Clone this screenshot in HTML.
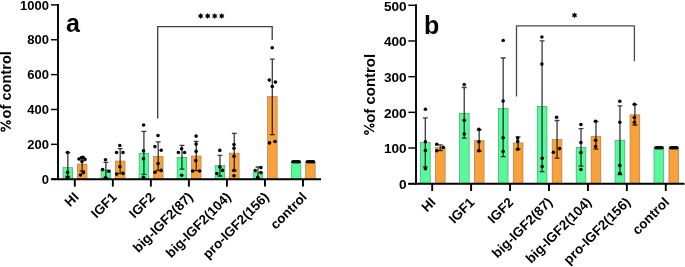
<!DOCTYPE html><html><head><meta charset="utf-8"><style>html,body{margin:0;padding:0;background:#fff;overflow:hidden}svg{display:block;will-change:transform}</style></head><body>
<svg width="685" height="267" viewBox="0 0 685 267" font-family='"Liberation Sans", sans-serif' font-weight="bold">
<rect x="63.0" y="167.7" width="9.7" height="11.5" fill="#58f99a" stroke="#3f8a5c" stroke-width="0.55"/>
<rect x="77.3" y="164.1" width="9.7" height="15.099999999999994" fill="#f9a23b" stroke="#8c7058" stroke-width="0.55"/>
<rect x="101.03" y="170.0" width="9.7" height="9.199999999999989" fill="#58f99a" stroke="#3f8a5c" stroke-width="0.55"/>
<rect x="115.33" y="161.0" width="9.7" height="18.19999999999999" fill="#f9a23b" stroke="#8c7058" stroke-width="0.55"/>
<rect x="139.06" y="153.4" width="9.7" height="25.799999999999983" fill="#58f99a" stroke="#3f8a5c" stroke-width="0.55"/>
<rect x="153.36" y="156.2" width="9.7" height="23.0" fill="#f9a23b" stroke="#8c7058" stroke-width="0.55"/>
<rect x="177.09" y="157.3" width="9.7" height="21.899999999999977" fill="#58f99a" stroke="#3f8a5c" stroke-width="0.55"/>
<rect x="191.39000000000001" y="156.0" width="9.7" height="23.19999999999999" fill="#f9a23b" stroke="#8c7058" stroke-width="0.55"/>
<rect x="215.12" y="165.6" width="9.7" height="13.599999999999994" fill="#58f99a" stroke="#3f8a5c" stroke-width="0.55"/>
<rect x="229.42000000000002" y="153.1" width="9.7" height="26.099999999999994" fill="#f9a23b" stroke="#8c7058" stroke-width="0.55"/>
<rect x="253.15" y="172.7" width="9.7" height="6.5" fill="#58f99a" stroke="#3f8a5c" stroke-width="0.55"/>
<rect x="267.45" y="96.7" width="9.7" height="82.49999999999999" fill="#f9a23b" stroke="#8c7058" stroke-width="0.55"/>
<rect x="291.18" y="161.8" width="9.7" height="17.399999999999977" fill="#58f99a" stroke="#3f8a5c" stroke-width="0.55"/>
<rect x="305.48" y="161.8" width="9.7" height="17.399999999999977" fill="#f9a23b" stroke="#8c7058" stroke-width="0.55"/>
<path d="M67.85,152.5V176.5M65.45,152.5H70.25M65.45,176.5H70.25" stroke="#000" stroke-opacity="0.78" stroke-width="1.3" fill="none"/>
<path d="M82.15,157.2V171.0M79.75,157.2H84.55M79.75,171.0H84.55" stroke="#000" stroke-opacity="0.78" stroke-width="1.3" fill="none"/>
<path d="M105.88,162.4V177.6M103.48,162.4H108.28M103.48,177.6H108.28" stroke="#000" stroke-opacity="0.78" stroke-width="1.3" fill="none"/>
<path d="M120.18,148.7V173.3M117.78,148.7H122.58M117.78,173.3H122.58" stroke="#000" stroke-opacity="0.78" stroke-width="1.3" fill="none"/>
<path d="M143.91,131.4V174.4M141.51,131.4H146.31M141.51,174.4H146.31" stroke="#000" stroke-opacity="0.78" stroke-width="1.3" fill="none"/>
<path d="M158.21,141.9V170.5M155.81,141.9H160.61M155.81,170.5H160.61" stroke="#000" stroke-opacity="0.78" stroke-width="1.3" fill="none"/>
<path d="M181.94,145.3V169.2M179.54,145.3H184.34M179.54,169.2H184.34" stroke="#000" stroke-opacity="0.78" stroke-width="1.3" fill="none"/>
<path d="M196.24,141.4V170.6M193.84,141.4H198.64M193.84,170.6H198.64" stroke="#000" stroke-opacity="0.78" stroke-width="1.3" fill="none"/>
<path d="M219.97,155.3V176.0M217.57,155.3H222.37M217.57,176.0H222.37" stroke="#000" stroke-opacity="0.78" stroke-width="1.3" fill="none"/>
<path d="M234.27,133.3V170.5M231.87,133.3H236.67M231.87,170.5H236.67" stroke="#000" stroke-opacity="0.78" stroke-width="1.3" fill="none"/>
<path d="M258.00,167.0V178.4M255.60,167.0H260.40M255.60,178.4H260.40" stroke="#000" stroke-opacity="0.78" stroke-width="1.3" fill="none"/>
<path d="M272.30,59.2V134.6M269.90,59.2H274.70M269.90,134.6H274.70" stroke="#000" stroke-opacity="0.78" stroke-width="1.3" fill="none"/>
<line x1="58" y1="4.0" x2="58" y2="180.0" stroke="#000" stroke-width="1.9"/>
<line x1="51" y1="179.2" x2="321" y2="179.2" stroke="#000" stroke-width="1.9"/>
<line x1="51" y1="179.2" x2="58" y2="179.2" stroke="#000" stroke-width="1.45"/>
<text x="49" y="183.80" font-size="13" text-anchor="end">0</text>
<line x1="51" y1="144.33999999999997" x2="58" y2="144.33999999999997" stroke="#000" stroke-width="1.45"/>
<text x="49" y="148.94" font-size="13" text-anchor="end">200</text>
<line x1="51" y1="109.47999999999999" x2="58" y2="109.47999999999999" stroke="#000" stroke-width="1.45"/>
<text x="49" y="114.08" font-size="13" text-anchor="end">400</text>
<line x1="51" y1="74.61999999999998" x2="58" y2="74.61999999999998" stroke="#000" stroke-width="1.45"/>
<text x="49" y="79.22" font-size="13" text-anchor="end">600</text>
<line x1="51" y1="39.75999999999999" x2="58" y2="39.75999999999999" stroke="#000" stroke-width="1.45"/>
<text x="49" y="44.36" font-size="13" text-anchor="end">800</text>
<line x1="51" y1="4.899999999999977" x2="58" y2="4.899999999999977" stroke="#000" stroke-width="1.45"/>
<text x="49" y="9.50" font-size="13" text-anchor="end">1000</text>
<line x1="74.8" y1="179.2" x2="74.8" y2="186.6" stroke="#000" stroke-width="1.9"/>
<line x1="112.83" y1="179.2" x2="112.83" y2="186.6" stroke="#000" stroke-width="1.9"/>
<line x1="150.86" y1="179.2" x2="150.86" y2="186.6" stroke="#000" stroke-width="1.9"/>
<line x1="188.89" y1="179.2" x2="188.89" y2="186.6" stroke="#000" stroke-width="1.9"/>
<line x1="226.92000000000002" y1="179.2" x2="226.92000000000002" y2="186.6" stroke="#000" stroke-width="1.9"/>
<line x1="264.95" y1="179.2" x2="264.95" y2="186.6" stroke="#000" stroke-width="1.9"/>
<line x1="302.98" y1="179.2" x2="302.98" y2="186.6" stroke="#000" stroke-width="1.9"/>
<circle cx="67.6" cy="152.5" r="1.8" fill="#000"/>
<circle cx="67.6" cy="172.4" r="1.8" fill="#000"/>
<circle cx="67.6" cy="177.3" r="1.8" fill="#000"/>
<circle cx="79" cy="159" r="1.8" fill="#000"/>
<circle cx="81.4" cy="157.8" r="1.8" fill="#000"/>
<circle cx="83" cy="157.2" r="1.8" fill="#000"/>
<circle cx="85" cy="159.4" r="1.8" fill="#000"/>
<circle cx="82" cy="161.4" r="1.8" fill="#000"/>
<circle cx="80.5" cy="175" r="1.8" fill="#000"/>
<circle cx="83.4" cy="172.4" r="1.8" fill="#000"/>
<circle cx="105.5" cy="159.7" r="1.8" fill="#000"/>
<circle cx="102.6" cy="169.6" r="1.8" fill="#000"/>
<circle cx="108.7" cy="171.3" r="1.8" fill="#000"/>
<circle cx="105.5" cy="177.9" r="1.8" fill="#000"/>
<circle cx="119.8" cy="145.5" r="1.8" fill="#000"/>
<circle cx="116.6" cy="152.5" r="1.8" fill="#000"/>
<circle cx="123" cy="152.5" r="1.8" fill="#000"/>
<circle cx="119.9" cy="166.8" r="1.8" fill="#000"/>
<circle cx="116.6" cy="174.1" r="1.8" fill="#000"/>
<circle cx="123" cy="173.4" r="1.8" fill="#000"/>
<circle cx="143.6" cy="125" r="1.8" fill="#000"/>
<circle cx="143.5" cy="150.9" r="1.8" fill="#000"/>
<circle cx="143.5" cy="158.7" r="1.8" fill="#000"/>
<circle cx="143.5" cy="177.3" r="1.8" fill="#000"/>
<circle cx="158" cy="135.5" r="1.8" fill="#000"/>
<circle cx="154.9" cy="146.6" r="1.8" fill="#000"/>
<circle cx="161.2" cy="150.2" r="1.8" fill="#000"/>
<circle cx="158.1" cy="163.6" r="1.8" fill="#000"/>
<circle cx="154.9" cy="172.3" r="1.8" fill="#000"/>
<circle cx="161.2" cy="170.4" r="1.8" fill="#000"/>
<circle cx="181.6" cy="148.8" r="1.8" fill="#000"/>
<circle cx="178.4" cy="152.5" r="1.8" fill="#000"/>
<circle cx="184.6" cy="152.5" r="1.8" fill="#000"/>
<circle cx="181.7" cy="175.3" r="1.8" fill="#000"/>
<circle cx="196.1" cy="136.1" r="1.8" fill="#000"/>
<circle cx="196.1" cy="144.1" r="1.8" fill="#000"/>
<circle cx="196.1" cy="151.4" r="1.8" fill="#000"/>
<circle cx="195.8" cy="160.6" r="1.8" fill="#000"/>
<circle cx="192.7" cy="171" r="1.8" fill="#000"/>
<circle cx="199.6" cy="171" r="1.8" fill="#000"/>
<circle cx="219.8" cy="150.4" r="1.8" fill="#000"/>
<circle cx="219.9" cy="167" r="1.8" fill="#000"/>
<circle cx="216.8" cy="173.5" r="1.8" fill="#000"/>
<circle cx="222.5" cy="170.4" r="1.8" fill="#000"/>
<circle cx="234" cy="144.5" r="1.8" fill="#000"/>
<circle cx="234" cy="148.3" r="1.8" fill="#000"/>
<circle cx="234" cy="156.2" r="1.8" fill="#000"/>
<circle cx="234" cy="170.5" r="1.8" fill="#000"/>
<circle cx="234" cy="175.7" r="1.8" fill="#000"/>
<circle cx="255.2" cy="170.5" r="1.8" fill="#000"/>
<circle cx="260.9" cy="167.6" r="1.8" fill="#000"/>
<circle cx="260.9" cy="172.6" r="1.8" fill="#000"/>
<circle cx="257.8" cy="177.4" r="1.8" fill="#000"/>
<circle cx="272.2" cy="47.8" r="1.8" fill="#000"/>
<circle cx="269.3" cy="80.1" r="1.8" fill="#000"/>
<circle cx="275.4" cy="82.1" r="1.8" fill="#000"/>
<circle cx="272.3" cy="86.5" r="1.8" fill="#000"/>
<circle cx="269.5" cy="142.9" r="1.8" fill="#000"/>
<circle cx="275" cy="141.5" r="1.8" fill="#000"/>
<circle cx="293.0" cy="161.8" r="1.8" fill="#000"/>
<circle cx="294.6" cy="161.8" r="1.8" fill="#000"/>
<circle cx="296.2" cy="161.8" r="1.8" fill="#000"/>
<circle cx="297.8" cy="161.8" r="1.8" fill="#000"/>
<circle cx="299.1" cy="161.8" r="1.8" fill="#000"/>
<circle cx="307.4" cy="161.8" r="1.8" fill="#000"/>
<circle cx="309.0" cy="161.8" r="1.8" fill="#000"/>
<circle cx="310.6" cy="161.8" r="1.8" fill="#000"/>
<circle cx="312.2" cy="161.8" r="1.8" fill="#000"/>
<circle cx="313.5" cy="161.8" r="1.8" fill="#000"/>
<rect x="420.4" y="142.6" width="9.8" height="41.099999999999994" fill="#58f99a" stroke="#3f8a5c" stroke-width="0.55"/>
<rect x="435.34999999999997" y="147.7" width="9.8" height="36.0" fill="#f9a23b" stroke="#8c7058" stroke-width="0.55"/>
<rect x="459.33" y="113.3" width="9.8" height="70.39999999999999" fill="#58f99a" stroke="#3f8a5c" stroke-width="0.55"/>
<rect x="474.28" y="140.7" width="9.8" height="43.0" fill="#f9a23b" stroke="#8c7058" stroke-width="0.55"/>
<rect x="498.26" y="108.6" width="9.8" height="75.1" fill="#58f99a" stroke="#3f8a5c" stroke-width="0.55"/>
<rect x="513.21" y="142.9" width="9.8" height="40.79999999999998" fill="#f9a23b" stroke="#8c7058" stroke-width="0.55"/>
<rect x="537.1899999999999" y="106.4" width="9.8" height="77.29999999999998" fill="#58f99a" stroke="#3f8a5c" stroke-width="0.55"/>
<rect x="552.14" y="139.6" width="9.8" height="44.099999999999994" fill="#f9a23b" stroke="#8c7058" stroke-width="0.55"/>
<rect x="576.12" y="147.4" width="9.8" height="36.29999999999998" fill="#58f99a" stroke="#3f8a5c" stroke-width="0.55"/>
<rect x="591.07" y="136.2" width="9.8" height="47.5" fill="#f9a23b" stroke="#8c7058" stroke-width="0.55"/>
<rect x="615.05" y="140.2" width="9.8" height="43.5" fill="#58f99a" stroke="#3f8a5c" stroke-width="0.55"/>
<rect x="630.0" y="114.8" width="9.8" height="68.89999999999999" fill="#f9a23b" stroke="#8c7058" stroke-width="0.55"/>
<rect x="653.98" y="147.8" width="9.8" height="35.89999999999998" fill="#58f99a" stroke="#3f8a5c" stroke-width="0.55"/>
<rect x="668.9300000000001" y="147.8" width="9.8" height="35.89999999999998" fill="#f9a23b" stroke="#8c7058" stroke-width="0.55"/>
<path d="M425.30,117.8V166.8M422.90,117.8H427.70M422.90,166.8H427.70" stroke="#000" stroke-opacity="0.78" stroke-width="1.3" fill="none"/>
<path d="M440.25,144.8V150.5M437.85,144.8H442.65M437.85,150.5H442.65" stroke="#000" stroke-opacity="0.78" stroke-width="1.3" fill="none"/>
<path d="M464.23,87.5V138.1M461.83,87.5H466.63M461.83,138.1H466.63" stroke="#000" stroke-opacity="0.78" stroke-width="1.3" fill="none"/>
<path d="M479.18,130.0V151.0M476.78,130.0H481.58M476.78,151.0H481.58" stroke="#000" stroke-opacity="0.78" stroke-width="1.3" fill="none"/>
<path d="M503.16,58.0V156.7M500.76,58.0H505.56M500.76,156.7H505.56" stroke="#000" stroke-opacity="0.78" stroke-width="1.3" fill="none"/>
<path d="M518.11,136.9V149.0M515.71,136.9H520.51M515.71,149.0H520.51" stroke="#000" stroke-opacity="0.78" stroke-width="1.3" fill="none"/>
<path d="M542.09,40.9V171.7M539.69,40.9H544.49M539.69,171.7H544.49" stroke="#000" stroke-opacity="0.78" stroke-width="1.3" fill="none"/>
<path d="M557.04,120.5V158.2M554.64,120.5H559.44M554.64,158.2H559.44" stroke="#000" stroke-opacity="0.78" stroke-width="1.3" fill="none"/>
<path d="M581.02,128.7V166.2M578.62,128.7H583.42M578.62,166.2H583.42" stroke="#000" stroke-opacity="0.78" stroke-width="1.3" fill="none"/>
<path d="M595.97,121.5V149.1M593.57,121.5H598.37M593.57,149.1H598.37" stroke="#000" stroke-opacity="0.78" stroke-width="1.3" fill="none"/>
<path d="M619.95,105.8V174.7M617.55,105.8H622.35M617.55,174.7H622.35" stroke="#000" stroke-opacity="0.78" stroke-width="1.3" fill="none"/>
<path d="M634.90,104.5V125.0M632.50,104.5H637.30M632.50,125.0H637.30" stroke="#000" stroke-opacity="0.78" stroke-width="1.3" fill="none"/>
<line x1="416" y1="4.3" x2="416" y2="184.5" stroke="#000" stroke-width="1.9"/>
<line x1="408.3" y1="183.7" x2="684.5" y2="183.7" stroke="#000" stroke-width="1.9"/>
<line x1="408.3" y1="183.7" x2="416" y2="183.7" stroke="#000" stroke-width="1.45"/>
<text x="406.6" y="188.90" font-size="13.6" text-anchor="end">0</text>
<line x1="408.3" y1="148.01999999999998" x2="416" y2="148.01999999999998" stroke="#000" stroke-width="1.45"/>
<text x="406.6" y="153.22" font-size="13.6" text-anchor="end">100</text>
<line x1="408.3" y1="112.33999999999999" x2="416" y2="112.33999999999999" stroke="#000" stroke-width="1.45"/>
<text x="406.6" y="117.54" font-size="13.6" text-anchor="end">200</text>
<line x1="408.3" y1="76.65999999999998" x2="416" y2="76.65999999999998" stroke="#000" stroke-width="1.45"/>
<text x="406.6" y="81.86" font-size="13.6" text-anchor="end">300</text>
<line x1="408.3" y1="40.97999999999999" x2="416" y2="40.97999999999999" stroke="#000" stroke-width="1.45"/>
<text x="406.6" y="46.18" font-size="13.6" text-anchor="end">400</text>
<line x1="408.3" y1="5.299999999999983" x2="416" y2="5.299999999999983" stroke="#000" stroke-width="1.45"/>
<text x="406.6" y="10.50" font-size="13.6" text-anchor="end">500</text>
<line x1="432.2" y1="183.7" x2="432.2" y2="191.0" stroke="#000" stroke-width="1.9"/>
<line x1="471.13" y1="183.7" x2="471.13" y2="191.0" stroke="#000" stroke-width="1.9"/>
<line x1="510.06" y1="183.7" x2="510.06" y2="191.0" stroke="#000" stroke-width="1.9"/>
<line x1="548.99" y1="183.7" x2="548.99" y2="191.0" stroke="#000" stroke-width="1.9"/>
<line x1="587.92" y1="183.7" x2="587.92" y2="191.0" stroke="#000" stroke-width="1.9"/>
<line x1="626.85" y1="183.7" x2="626.85" y2="191.0" stroke="#000" stroke-width="1.9"/>
<line x1="665.78" y1="183.7" x2="665.78" y2="191.0" stroke="#000" stroke-width="1.9"/>
<circle cx="425.4" cy="109.2" r="1.8" fill="#000"/>
<circle cx="425.4" cy="141.7" r="1.8" fill="#000"/>
<circle cx="425.4" cy="150.6" r="1.8" fill="#000"/>
<circle cx="425.4" cy="168.7" r="1.8" fill="#000"/>
<circle cx="436.8" cy="144.3" r="1.8" fill="#000"/>
<circle cx="443.2" cy="147.4" r="1.8" fill="#000"/>
<circle cx="436.8" cy="150.7" r="1.8" fill="#000"/>
<circle cx="464.2" cy="84.5" r="1.8" fill="#000"/>
<circle cx="464.2" cy="120.2" r="1.8" fill="#000"/>
<circle cx="464.2" cy="134" r="1.8" fill="#000"/>
<circle cx="478.9" cy="129.2" r="1.8" fill="#000"/>
<circle cx="478.9" cy="141.7" r="1.8" fill="#000"/>
<circle cx="478.9" cy="150.7" r="1.8" fill="#000"/>
<circle cx="503.2" cy="40.5" r="1.8" fill="#000"/>
<circle cx="503.1" cy="101.1" r="1.8" fill="#000"/>
<circle cx="503.1" cy="137.7" r="1.8" fill="#000"/>
<circle cx="503.1" cy="151.5" r="1.8" fill="#000"/>
<circle cx="517.7" cy="138" r="1.8" fill="#000"/>
<circle cx="517.7" cy="141.4" r="1.8" fill="#000"/>
<circle cx="517.7" cy="149.2" r="1.8" fill="#000"/>
<circle cx="541.9" cy="37" r="1.8" fill="#000"/>
<circle cx="541.9" cy="64.1" r="1.8" fill="#000"/>
<circle cx="542.2" cy="158.2" r="1.8" fill="#000"/>
<circle cx="542.2" cy="166.5" r="1.8" fill="#000"/>
<circle cx="556.6" cy="117.2" r="1.8" fill="#000"/>
<circle cx="559.6" cy="148.6" r="1.8" fill="#000"/>
<circle cx="553.4" cy="152.2" r="1.8" fill="#000"/>
<circle cx="580.9" cy="124.5" r="1.8" fill="#000"/>
<circle cx="580.9" cy="142.6" r="1.8" fill="#000"/>
<circle cx="580.9" cy="152.6" r="1.8" fill="#000"/>
<circle cx="580.9" cy="169.5" r="1.8" fill="#000"/>
<circle cx="595.6" cy="121.2" r="1.8" fill="#000"/>
<circle cx="595.6" cy="140.3" r="1.8" fill="#000"/>
<circle cx="595.6" cy="146.6" r="1.8" fill="#000"/>
<circle cx="619.8" cy="101.3" r="1.8" fill="#000"/>
<circle cx="619.8" cy="122.2" r="1.8" fill="#000"/>
<circle cx="619.8" cy="165.4" r="1.8" fill="#000"/>
<circle cx="619.8" cy="173.2" r="1.8" fill="#000"/>
<circle cx="634.4" cy="104.3" r="1.8" fill="#000"/>
<circle cx="634.4" cy="117.5" r="1.8" fill="#000"/>
<circle cx="634.4" cy="122.2" r="1.8" fill="#000"/>
<circle cx="656.0" cy="147.8" r="1.8" fill="#000"/>
<circle cx="657.6" cy="147.8" r="1.8" fill="#000"/>
<circle cx="659.2" cy="147.8" r="1.8" fill="#000"/>
<circle cx="660.8" cy="147.8" r="1.8" fill="#000"/>
<circle cx="662.0" cy="147.8" r="1.8" fill="#000"/>
<circle cx="670.8" cy="147.8" r="1.8" fill="#000"/>
<circle cx="672.4" cy="147.8" r="1.8" fill="#000"/>
<circle cx="674.0" cy="147.8" r="1.8" fill="#000"/>
<circle cx="675.6" cy="147.8" r="1.8" fill="#000"/>
<circle cx="676.8" cy="147.8" r="1.8" fill="#000"/>
<text x="79.60" y="197.90" font-size="13.4" text-anchor="end" transform="rotate(-45 79.60 197.90)">HI</text>
<text x="117.63" y="197.90" font-size="13.4" text-anchor="end" transform="rotate(-45 117.63 197.90)">IGF1</text>
<text x="155.66" y="197.90" font-size="13.4" text-anchor="end" transform="rotate(-45 155.66 197.90)">IGF2</text>
<text x="193.69" y="197.90" font-size="13.4" text-anchor="end" transform="rotate(-45 193.69 197.90)">big-IGF2(87)</text>
<text x="231.72" y="197.90" font-size="13.4" text-anchor="end" transform="rotate(-45 231.72 197.90)">big-IGF2(104)</text>
<text x="269.75" y="197.90" font-size="13.4" text-anchor="end" transform="rotate(-45 269.75 197.90)">pro-IGF2(156)</text>
<text x="307.78" y="197.90" font-size="13.4" text-anchor="end" transform="rotate(-45 307.78 197.90)">control</text>
<text x="436.50" y="203.10" font-size="13.5" text-anchor="end" transform="rotate(-45 436.50 203.10)">HI</text>
<text x="475.43" y="203.10" font-size="13.5" text-anchor="end" transform="rotate(-45 475.43 203.10)">IGF1</text>
<text x="514.36" y="203.10" font-size="13.5" text-anchor="end" transform="rotate(-45 514.36 203.10)">IGF2</text>
<text x="553.29" y="203.10" font-size="13.5" text-anchor="end" transform="rotate(-45 553.29 203.10)">big-IGF2(87)</text>
<text x="592.22" y="203.10" font-size="13.5" text-anchor="end" transform="rotate(-45 592.22 203.10)">big-IGF2(104)</text>
<text x="631.15" y="203.10" font-size="13.5" text-anchor="end" transform="rotate(-45 631.15 203.10)">pro-IGF2(156)</text>
<text x="670.08" y="203.10" font-size="13.5" text-anchor="end" transform="rotate(-45 670.08 203.10)">control</text>
<g transform="translate(0 0)" fill="none" stroke="#000" stroke-width="1.35"><ellipse cx="8.5" cy="122.4" rx="1.85" ry="1.45"/><ellipse cx="3.0" cy="129.4" rx="1.85" ry="1.6"/><line x1="0.4" y1="122.1" x2="10.7" y2="128.6"/></g>
<g transform="translate(363.5 3.2)" fill="none" stroke="#000" stroke-width="1.35"><ellipse cx="8.5" cy="122.4" rx="1.85" ry="1.45"/><ellipse cx="3.0" cy="129.4" rx="1.85" ry="1.6"/><line x1="0.4" y1="122.1" x2="10.7" y2="128.6"/></g>
<text x="0" y="0" font-size="14.6" transform="translate(11.0 118.4) rotate(-90)">of control</text>
<text x="0" y="0" font-size="14.95" transform="translate(374.8 122.8) rotate(-90)">of control</text>
<text x="66" y="32" font-size="25">a</text>
<text x="424" y="33.6" font-size="25">b</text>
<polyline points="157.7,118.4 157.7,26.6 272.2,26.6 272.2,40" fill="none" stroke="#3d3d3d" stroke-width="1.3"/>
<polyline points="516.5,96.6 516.5,25.9 634.4,25.9 634.4,61.3" fill="none" stroke="#4a4a4a" stroke-width="1.3"/>
<polygon points="200.70,13.00 201.55,14.58 203.34,14.53 202.40,16.05 203.34,17.57 201.55,17.52 200.70,19.10 199.85,17.52 198.06,17.57 199.00,16.05 198.06,14.53 199.85,14.58" fill="#000"/>
<polygon points="207.70,13.00 208.55,14.58 210.34,14.53 209.40,16.05 210.34,17.57 208.55,17.52 207.70,19.10 206.85,17.52 205.06,17.57 206.00,16.05 205.06,14.53 206.85,14.58" fill="#000"/>
<polygon points="214.70,13.00 215.55,14.58 217.34,14.53 216.40,16.05 217.34,17.57 215.55,17.52 214.70,19.10 213.85,17.52 212.06,17.57 213.00,16.05 212.06,14.53 213.85,14.58" fill="#000"/>
<polygon points="221.70,13.00 222.55,14.58 224.34,14.53 223.40,16.05 224.34,17.57 222.55,17.52 221.70,19.10 220.85,17.52 219.06,17.57 220.00,16.05 219.06,14.53 220.85,14.58" fill="#000"/>
<polygon points="574.50,12.25 575.35,13.83 577.14,13.78 576.20,15.30 577.14,16.82 575.35,16.77 574.50,18.35 573.65,16.77 571.86,16.82 572.80,15.30 571.86,13.78 573.65,13.83" fill="#000"/>
</svg></body></html>
